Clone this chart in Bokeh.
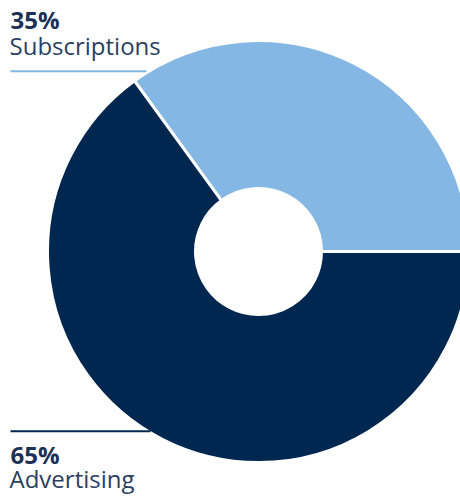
import numpy as np
from bokeh.plotting import figure
from bokeh.models import Range1d
from bokeh.core.properties import value
from bokeh.embed import file_html
from bokeh.resources import INLINE

categories = ["Subscriptions", "Advertising"]
shares = [35, 65]
pct_labels = ["35%", "65%"]
colors = ["#85B7E5", "#00274F"]

W, H = 460, 499
p = figure(width=W, height=H, output_backend="svg", toolbar_location=None,
           x_range=Range1d(0, W), y_range=Range1d(-H, 0),
           min_border=0, outline_line_color=None)
p.axis.visible = False
p.grid.visible = False
p.background_fill_color = "white"
p.border_fill_color = "white"

frac = np.array(shares) / np.sum(shares)
ends = np.cumsum(frac) * 2 * np.pi
starts = np.concatenate([[0], ends[:-1]])

cx, cy = 258, -251
p.annular_wedge(x=cx, y=cy, inner_radius=63, outer_radius=211,
                start_angle=starts, end_angle=ends,
                fill_color=colors, line_color="white", line_width=3)

# leader lines
p.segment(x0=[10], y0=[-70.7], x1=[146], y1=[-70.7], line_color=colors[0], line_width=2)
p.segment(x0=[10], y0=[-430.7], x1=[150], y1=[-430.7], line_color=colors[1], line_width=2)

txt = "#1c3156"
p.text(x=[10, 10], y=[-19, -454], text=pct_labels,
       text_font=value("Open Sans"), text_font_style="bold",
       text_font_size="24px", text_color=txt, text_baseline="alphabetic")
p.text(x=[9, 9], y=[-45, -478], text=categories,
       text_font=value("Open Sans"), text_font_size="24px",
       text_color="#2b3f62", text_baseline="alphabetic")

open("out.html", "w").write(file_html(p, INLINE))
